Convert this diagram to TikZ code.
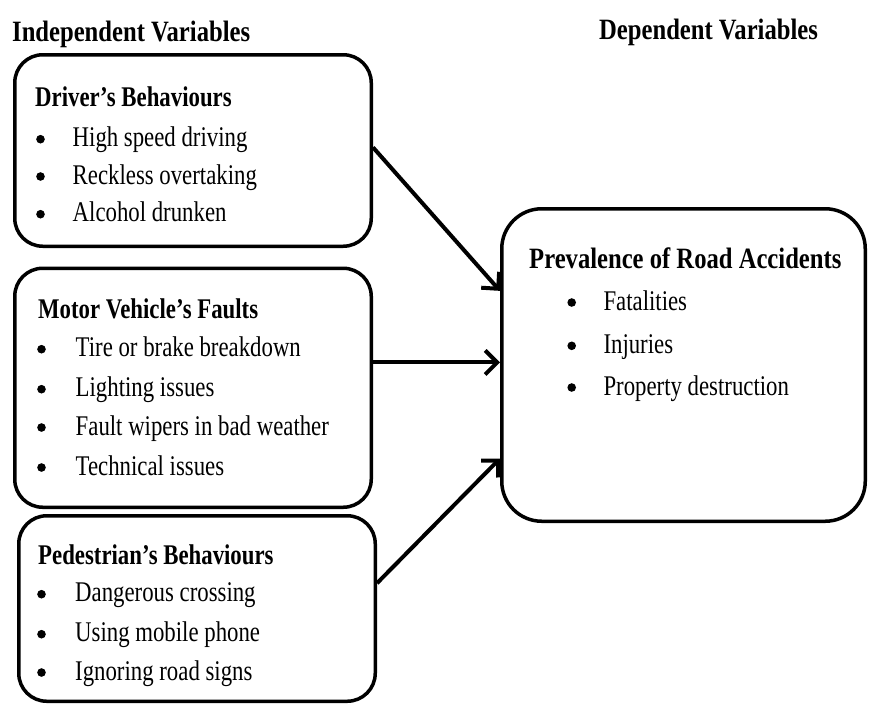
\documentclass[tikz,border=0pt]{standalone}
\usepackage{fontspec}
\setmainfont{Liberation Serif}[FakeStretch=0.80]
\newfontfamily\bigserif{Liberation Serif}[FakeStretch=0.835]
\usetikzlibrary{arrows.meta}
\begin{document}
\begin{tikzpicture}[x=1pt,y=-1pt,
  box/.style={draw, line width=3.5pt, rounded corners=28pt, inner sep=0pt},
  bighead/.style={anchor=base west, inner sep=0pt, font=\bigserif\fontsize{29.5}{32}\selectfont\bfseries},
  head/.style={anchor=base west, inner sep=0pt, font=\fontsize{28.5}{32}\selectfont\bfseries},
  item/.style={anchor=base west, inner sep=0pt, font=\fontsize{28.5}{32}\selectfont},
  bul/.style={circle, fill, inner sep=0pt, minimum size=8.6pt, yshift=7.5pt},
  arr/.style={line width=4pt, -{Straight Barb[length=12pt,width=24pt]}}]
\useasboundingbox (0,0) rectangle (869,705);

% headers
\node[bighead] (hind) at (12,41) {Independent Variables};
\node[bighead] (hdep) at (599,39) {Dependent Variables};

% boxes
\node[box, minimum width=356.5pt, minimum height=191.5pt] (b1) at (193,150.5) {};
\node[box, minimum width=356.5pt, minimum height=239pt] (b2) at (193,387.75) {};
\node[box, minimum width=356.5pt, minimum height=185.5pt] (b3) at (197,608.5) {};
\node[box, rounded corners=40pt, minimum width=363.5pt, minimum height=312.5pt] (dep) at (683.5,365) {};

% box 1
\node[head] (t1) at (35,106) {Driver’s Behaviours};
\node[bul] (p11) at (40.5,146.7) {};
\node[bul] (p12) at (40.5,184) {};
\node[bul] (p13) at (40.5,221.7) {};
\node[item] (i11) at (72.5,146.7) {High speed driving};
\node[item] (i12) at (72.5,184) {Reckless overtaking};
\node[item] (i13) at (72.5,221.7) {Alcohol drunken};

% box 2
\node[head] (t2) at (38,318.3) {Motor Vehicle’s Faults};
\node[bul] (p21) at (41.5,356.7) {};
\node[bul] (p22) at (41.5,396.7) {};
\node[bul] (p23) at (41.5,435) {};
\node[bul] (p24) at (41.5,475) {};
\node[item] (i21) at (75.5,356.7) {Tire or brake breakdown};
\node[item] (i22) at (75.5,396.7) {Lighting issues};
\node[item] (i23) at (75.5,435) {Fault wipers in bad weather};
\node[item] (i24) at (75.5,475) {Technical issues};

% box 3
\node[head] (t3) at (38,564) {Pedestrian’s Behaviours};
\node[bul] (p31) at (41.5,601.7) {};
\node[bul] (p32) at (41.5,641.7) {};
\node[bul] (p33) at (41.5,680) {};
\node[item] (i31) at (75,601.7) {Dangerous crossing};
\node[item] (i32) at (75,641.7) {Using mobile phone};
\node[item] (i33) at (75,680) {Ignoring road signs};

% dependent box
\node[bighead] (t4) at (529,268.3) {Prevalence of Road Accidents};
\node[bul] (p41) at (571.7,310) {};
\node[bul] (p42) at (571.7,353.3) {};
\node[bul] (p43) at (571.7,395) {};
\node[item] (i41) at (603.3,310) {Fatalities};
\node[item] (i42) at (603.3,353.3) {Injuries};
\node[item] (i43) at (603.3,395) {Property destruction};

% connectors
\draw[arr] (b1.1.75) -- (dep.158.6);
\draw[arr] (b2.8.14) -- (b2.8.14 -| dep.west);
\draw[arr] (b3.8.06) -- (dep.207.6);
\end{tikzpicture}
\end{document}
